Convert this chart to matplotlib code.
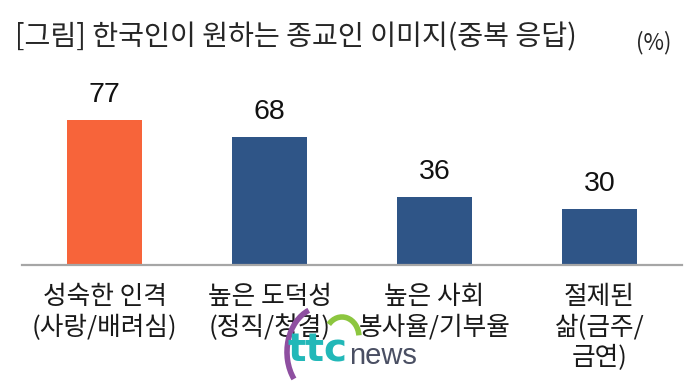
import matplotlib
matplotlib.use("Agg")
import matplotlib.pyplot as plt
from matplotlib.patches import Arc
from matplotlib.transforms import blended_transform_factory

plt.rcParams['font.family'] = ['Noto Sans CJK KR', 'DejaVu Sans']

title = "[그림] 한국인이 원하는 종교인 이미지(중복 응답)"
unit = "(%)"
categories = ["성숙한 인격\n(사랑/배려심)", "높은 도덕성\n(정직/청결)", "높은 사회\n봉사율/기부율", "절제된\n삶(금주/\n금연)"]
values = [77, 68, 36, 30]
colors = ["#F7643A", "#2F5587", "#2F5587", "#2F5587"]

W, H = 698, 387
fig = plt.figure(figsize=(W / 100, H / 100), dpi=100)
ax = fig.add_axes([22 / W, (H - 265) / H, 660 / W, 205 / H])

x = list(range(len(values)))
bars = ax.bar(x, values, width=0.45, color=colors, zorder=2)
ax.set_xlim(-0.5, len(values) - 0.5)
ax.set_ylim(0, 109)

for s in ["top", "right", "left"]:
    ax.spines[s].set_visible(False)
ax.spines["bottom"].set_color("#A6A6A6")
ax.spines["bottom"].set_linewidth(1.6)
ax.set_xticks([])
ax.set_yticks([])

for xi, v in zip(x, values):
    ax.annotate(str(v), (xi, v), xytext=(0, 13), textcoords="offset points",
                ha="center", va="baseline", fontsize=20.5,
                family=["Liberation Sans", "DejaVu Sans"], color="#111111")

trans = blended_transform_factory(ax.transData, ax.transAxes)
for xi, lab in zip(x, categories):
    ax.text(xi, -0.095, lab, transform=trans, ha="center", va="top",
            fontsize=18.5, linespacing=1.2, color="#1a1a1a")

fig.text(15 / W, 1 - 37 / H, title, ha="left", va="center", fontsize=20.3, color="#262626")
fig.text(654 / W, 1 - 43 / H, unit, ha="center", va="center", fontsize=16, color="#262626")

# watermark logo (approximation)
fig.text(288 / W, 1 - 350 / H, "ttc", ha="left", va="center", fontsize=28,
         fontweight="bold", color="#22B8B8", family=["DejaVu Sans"])
fig.text(349 / W, 1 - 356 / H, "news", ha="left", va="center", fontsize=21,
         color="#4A4F63", family=["Liberation Sans Narrow", "Liberation Sans"])
fig.add_artist(Arc((322 / W, 1 - 352 / H), 70 / W, 90 / H, theta1=100, theta2=240,
                   transform=fig.transFigure, color="#8E4FA0", lw=4))
fig.add_artist(Arc((342 / W, 1 - 337 / H), 34 / W, 40 / H, theta1=10, theta2=120,
                   transform=fig.transFigure, color="#8CC63F", lw=4))

fig.savefig("out.png", dpi=100, facecolor="white")
